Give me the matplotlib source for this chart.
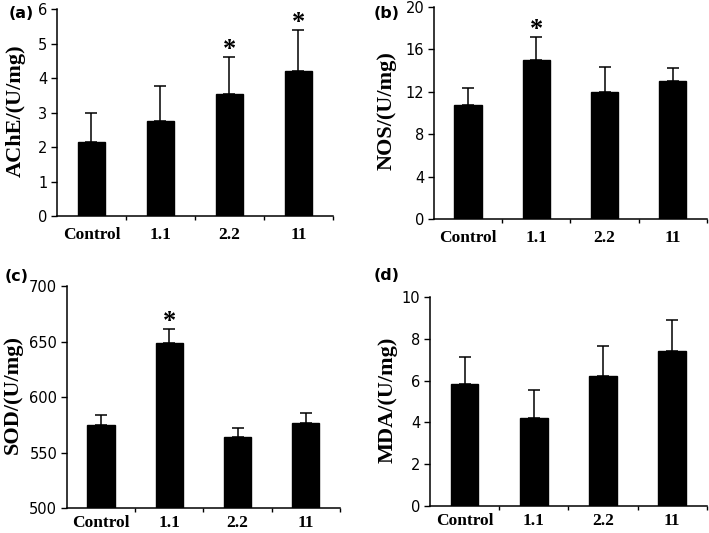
import numpy as np
import matplotlib as mpl
import matplotlib.pyplot as plt
from matplotlib.ticker import FixedLocator

# group labels shared by all panels
groups = ["Control", "1.1", "2.2", "11"]

# panel values (mean) and upper error (SD)
ache = [2.15, 2.75, 3.55, 4.2]
ache_err = [0.85, 1.02, 1.07, 1.2]
nos = [10.8, 15.0, 12.0, 13.0]
nos_err = [1.6, 2.2, 2.3, 1.2]
sod = [575, 649, 564, 577]
sod_err = [9, 12, 8, 9]
mda = [5.85, 4.2, 6.2, 7.4]
mda_err = [1.3, 1.35, 1.45, 1.5]

# significance markers (index of group)
ache_sig = [2, 3]
nos_sig = [1]
sod_sig = [1]
mda_sig = []

SERIF = ["Liberation Serif", "DejaVu Serif"]


def panel(ax, vals, errs, sig, ylim, yticks, ylabel, letter, label_xy,
          ylab_x, xpad):
    x = np.arange(len(groups))
    ax.bar(x, np.array(vals) - ylim[0], width=0.4, bottom=ylim[0],
           color="black", edgecolor="black")
    ax.errorbar(x, vals, yerr=[np.zeros(len(errs)), errs], fmt="none",
                ecolor="black", elinewidth=1.1, capsize=4, capthick=1.1)
    for i in sig:
        ax.annotate("*", (x[i], vals[i] + errs[i]), xytext=(0, -3),
                    textcoords="offset points", ha="center", va="bottom",
                    fontsize=19, fontweight="bold", family=SERIF)
    ax.set_xlim(-0.5, 3.5)
    ax.set_ylim(ylim)
    ax.set_yticks(yticks)
    ax.set_xticks(x)
    ax.set_xticklabels(groups, family=SERIF, fontweight="bold", fontsize=12.5)
    ax.xaxis.set_minor_locator(FixedLocator([0.5, 1.5, 2.5, 3.5]))
    ax.tick_params(axis="x", which="major", length=0, pad=xpad)
    ax.tick_params(axis="x", which="minor", length=3, direction="out", width=1)
    ax.tick_params(axis="y", length=4, width=1, labelsize=10.5, pad=3)
    for s in ["top", "right"]:
        ax.spines[s].set_visible(False)
    for s in ["left", "bottom"]:
        ax.spines[s].set_linewidth(1.1)
    ax.set_ylabel(ylabel, family=SERIF, fontweight="bold", fontsize=16)
    ax.yaxis.label.set_va("center")
    ax.yaxis.set_label_coords(ylab_x, 0.51)
    ax.figure.text(label_xy[0], label_xy[1], letter, fontsize=11.5,
                   fontweight="bold", ha="left", va="center")


fig = plt.figure(figsize=(7.09, 5.33), dpi=100)
ax_a = fig.add_axes([0.0804, 0.5947, 0.389, 0.388])
ax_b = fig.add_axes([0.612, 0.589, 0.385, 0.398])
ax_c = fig.add_axes([0.0945, 0.0469, 0.385, 0.4165])
ax_d = fig.add_axes([0.6065, 0.0507, 0.3906, 0.392])

panel(ax_a, ache, ache_err, ache_sig, (0, 6), range(0, 7), "AChE/(U/mg)",
      "(a)", (0.012, 0.975), -0.15, 8)
panel(ax_b, nos, nos_err, nos_sig, (0, 20), range(0, 21, 4), "NOS/(U/mg)",
      "(b)", (0.527, 0.975), -0.172, 8)
panel(ax_c, sod, sod_err, sod_sig, (500, 700), range(500, 701, 50), "SOD/(U/mg)",
      "(c)", (0.006, 0.482), -0.2, 5)
panel(ax_d, mda, mda_err, mda_sig, (0, 10), range(0, 11, 2), "MDA/(U/mg)",
      "(d)", (0.527, 0.484), -0.152, 5)

fig.savefig("out.png", dpi=100)
